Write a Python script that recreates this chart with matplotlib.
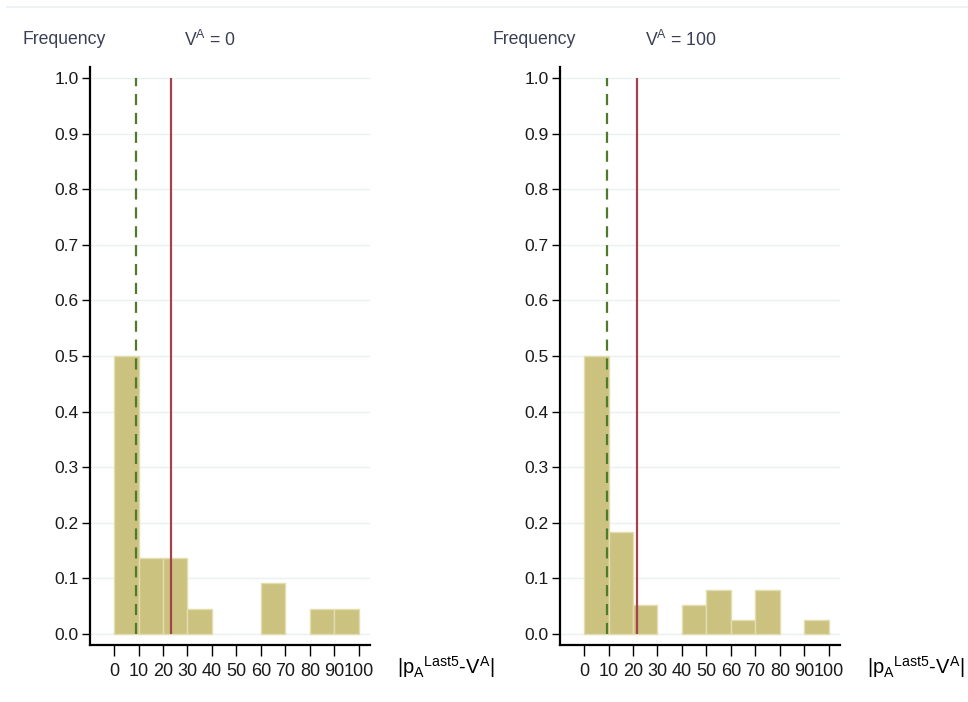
import numpy as np
import matplotlib.pyplot as plt
from matplotlib.lines import Line2D

plt.rcParams['font.family'] = ['Liberation Sans', 'DejaVu Sans']
plt.rcParams['mathtext.fontset'] = 'custom'
plt.rcParams['mathtext.rm'] = 'Liberation Sans'

bin_edges = np.arange(0, 101, 10)
# fraction of subjects per bin of |p_A - V^A|
freq_v0 = [0.500, 0.136, 0.136, 0.045, 0.0, 0.0, 0.091, 0.0, 0.045, 0.045]
freq_v100 = [0.500, 0.184, 0.053, 0.0, 0.053, 0.079, 0.026, 0.079, 0.0, 0.026]
median_v0, mean_v0 = 9.0, 23.3
median_v100, mean_v100 = 9.4, 21.6
titles = [r'V$^\mathregular{A}$ = 0', r'V$^\mathregular{A}$ = 100']
xticks = np.arange(0, 101, 10)
yticks = np.round(np.arange(0, 1.01, 0.1), 1)

BAR = '#cbc27f'
BAR_EDGE = '#e2dcae'
GREEN = '#4f7a2c'
RED = '#a3424b'
GRID = '#eaf1f2'

fig = plt.figure(figsize=(9.68, 7.02), dpi=100)
fig.add_artist(Line2D([7 / 968, 1], [1 - 7 / 702] * 2, color=GRID, lw=1.2))

panels = [(freq_v0, median_v0, mean_v0, 90), (freq_v100, median_v100, mean_v100, 560)]
for (freq, med, mean, x0), title in zip(panels, titles):
    ax = fig.add_axes([x0 / 968, 57 / 702, 280 / 968, 578 / 702])
    freq = np.asarray(freq)
    keep = freq > 0
    ax.bar(bin_edges[:-1][keep], freq[keep], width=10, align='edge', color=BAR,
           edgecolor=BAR_EDGE, linewidth=1, zorder=2)
    ax.vlines(med, 0, 1, colors=GREEN, linestyles=(0, (5, 3.5)), lw=1.6, zorder=3)
    ax.vlines(mean, 0, 1, colors=RED, lw=1.6, zorder=3)

    ax.set_xlim(-9.8, 104.5)
    ax.set_ylim(-0.0198, 1.0198)
    ax.set_xticks(xticks)
    ax.set_yticks(yticks)
    ax.set_yticklabels([f'{v:.1f}' for v in yticks])
    ax.yaxis.grid(True, color=GRID, lw=1, zorder=0)
    ax.set_axisbelow(True)
    for s in ['top', 'right']:
        ax.spines[s].set_visible(False)
    for s in ['left', 'bottom']:
        ax.spines[s].set_linewidth(1.6)
        ax.spines[s].set_color('black')
    ax.tick_params(axis='y', length=6, width=1, labelsize=12.5, pad=2, labelcolor='#1a1a1a')
    ax.tick_params(axis='x', length=8, width=1, labelsize=13, pad=5, labelcolor='#1a1a1a')

    ax.text(-0.24, 1.047, 'Frequency', transform=ax.transAxes, fontsize=12.7,
            color='#3a3f55', ha='left', va='center')
    ax.text(0.43, 1.047, title, transform=ax.transAxes, fontsize=12.7,
            color='#3a3f55', ha='center', va='center')
    ax.text(1.095, -0.038, r'|p$_\mathregular{A}$${}^\mathregular{Last5}$-V$^\mathregular{A}$|',
            transform=ax.transAxes, fontsize=14.5, ha='left', va='center')

fig.savefig('out.png', dpi=100)
